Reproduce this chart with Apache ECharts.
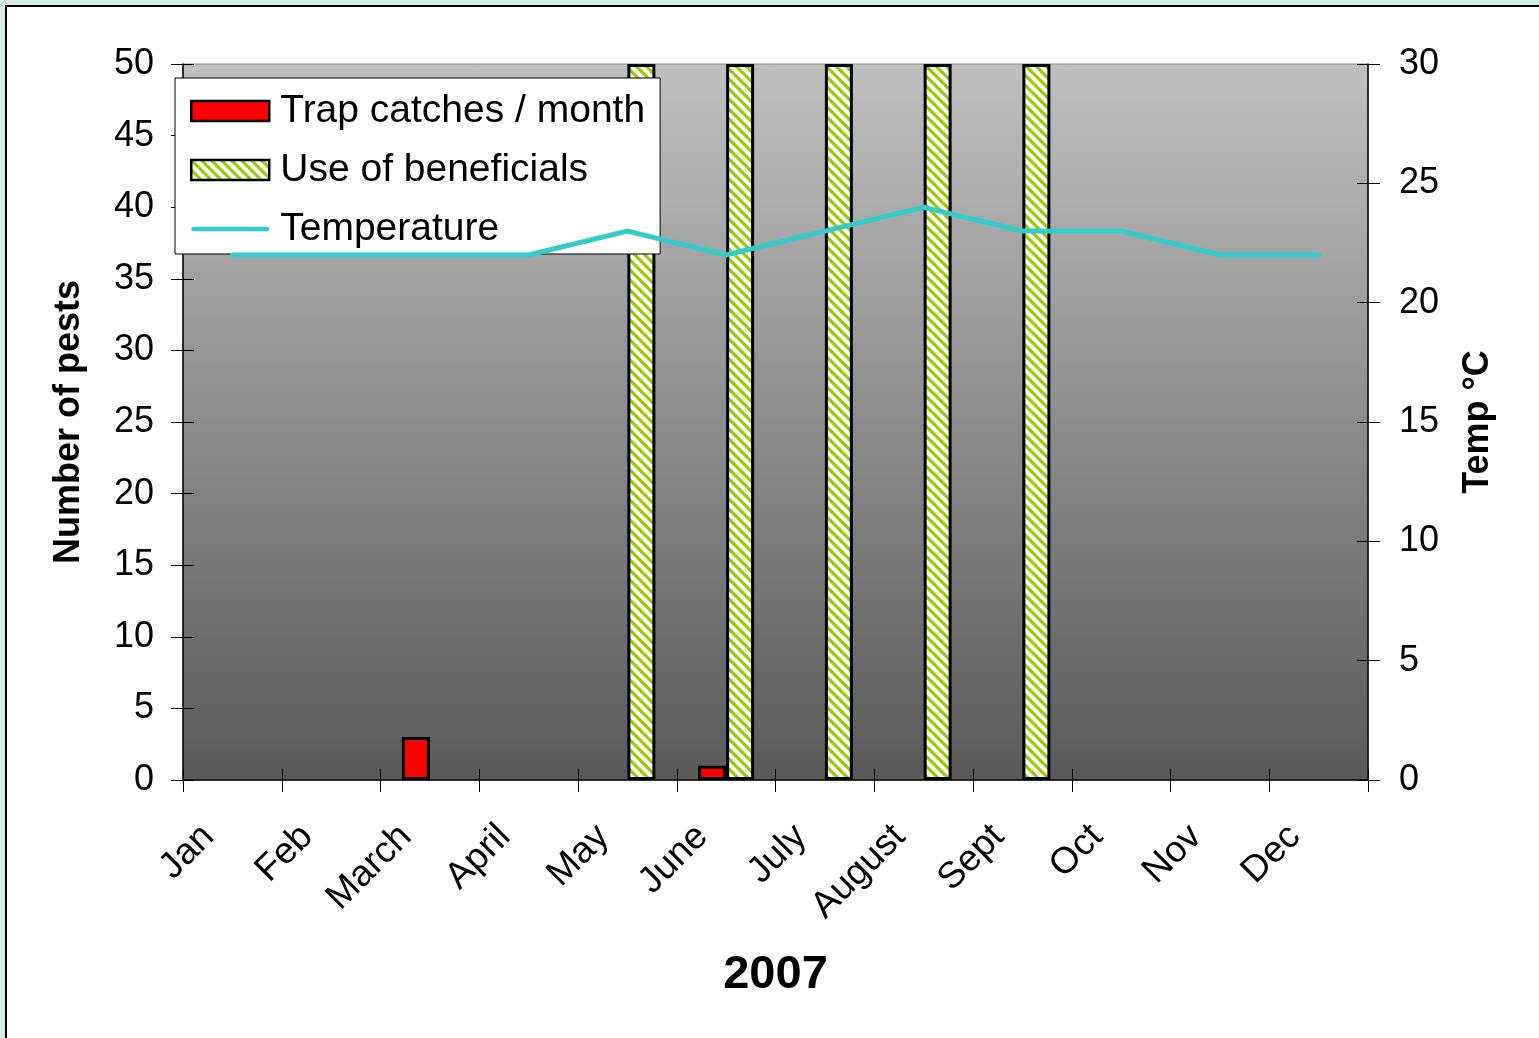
<!DOCTYPE html>
<html>
<head>
<meta charset="utf-8">
<script src="https://cdn.jsdelivr.net/npm/echarts@6/dist/echarts.min.js"></script>
<style>
  html, body { margin: 0; padding: 0; background: #d9ebe5; overflow: hidden; }
  #frame { position: absolute; left: 5px; top: 5px; right: 0; bottom: 0; background: #ffffff;
           border-left: 2px solid #000; border-top: 2px solid #000; }
  #chart { position: absolute; left: 0; top: 0; width: 1539px; height: 1038px; }
</style>
</head>
<body>
<div id="frame"></div>
<div id="chart"></div>
<script>
// Monthly pest monitoring, 2007
const months = ['Jan', 'Feb', 'March', 'April', 'May', 'June', 'July', 'August', 'Sept', 'Oct', 'Nov', 'Dec'];
const trapCatches = [null, null, 3, null, null, 1, null, null, null, null, null, null];
const beneficials = [null, null, null, null, 50, 50, 50, 50, 50, null, null, null];
const temperature = [22, 22, 22, 22, 23, 22, 23, 24, 23, 23, 22, 22];
const pestTicks = { min: 0, max: 50, interval: 5 };
const tempTicks = { min: 0, max: 30, interval: 5 };

// Diagonal green hatch used for the "Use of beneficials" bars
function hatchPattern() {
  const p = 10;
  const c = document.createElement('canvas');
  c.width = p; c.height = p;
  const g = c.getContext('2d');
  g.fillStyle = '#ffffff';
  g.fillRect(0, 0, p, p);
  g.strokeStyle = '#99cc00';
  g.lineWidth = 3.2;
  for (let k = -1; k <= 1; k++) {
    g.beginPath();
    g.moveTo(k * p - 2, -2);
    g.lineTo(k * p + p + 2, p + 2);
    g.stroke();
  }
  return c;
}

const FONT = '"Liberation Sans", Arial, sans-serif';
const gridRect = { left: 183, right: 171, top: 64, bottom: 258 };

const chart = echarts.init(document.getElementById('chart'), null, { renderer: 'canvas' });

const tickOut = { show: true, inside: false, length: 12, lineStyle: { color: '#000', width: 1 } };
const tickIn = { show: true, inside: true, length: 11, lineStyle: { color: '#000', width: 1 } };

chart.setOption({
  animation: false,
  textStyle: { fontFamily: FONT },
  grid: [
    Object.assign({
      show: true,
      backgroundColor: new echarts.graphic.LinearGradient(0, 0, 0, 1, [
        { offset: 0, color: '#c0c0c0' },
        { offset: 1, color: '#595959' }
      ]),
      borderColor: '#8a8a8a',
      borderWidth: 1
    }, gridRect),
    Object.assign({ show: false }, gridRect)
  ],
  legend: {
    orient: 'vertical',
    left: 175,
    top: 78,
    padding: [13, 15, 5, 15],
    itemWidth: 78,
    itemHeight: 20,
    itemGap: 19,
    backgroundColor: '#ffffff',
    borderColor: '#000',
    borderWidth: 1,
    borderRadius: 0,
    textStyle: { fontFamily: FONT, fontSize: 39, lineHeight: 40, color: '#000', padding: [0, 0, 0, 6] },
    data: [
      { name: 'Trap catches / month', icon: 'rect', itemStyle: { borderColor: '#000', borderWidth: 2.5 } },
      { name: 'Use of beneficials', icon: 'rect', itemStyle: { borderColor: '#000', borderWidth: 2.5 } },
      {
        name: 'Temperature',
        icon: 'path://M2.5,0 L81.5,0 A2.5,2.5 0 0 1 81.5,5 L2.5,5 A2.5,2.5 0 0 1 2.5,0 Z',
        itemStyle: { color: '#33cccc', borderWidth: 0 }
      }
    ]
  },
  xAxis: [
    {
      type: 'category',
      gridIndex: 0,
      data: months,
      boundaryGap: true,
      axisLine: { show: true, lineStyle: { color: '#000', width: 1.5 } },
      axisTick: Object.assign({ alignWithLabel: false, interval: 0 }, tickOut),
      axisLabel: {
        interval: 0,
        rotate: 45,
        margin: 27,
        padding: [0, 34, 0, 0],
        fontSize: 37,
        color: '#000',
        fontFamily: FONT
      },
      name: '2007',
      nameLocation: 'middle',
      nameGap: 172,
      nameTextStyle: { fontSize: 47, fontWeight: 'bold', color: '#000', fontFamily: FONT }
    },
    {
      type: 'category',
      gridIndex: 1,
      data: months,
      boundaryGap: true,
      axisLine: { show: false },
      axisTick: Object.assign({ alignWithLabel: false, interval: 0 }, tickIn),
      axisLabel: { show: false }
    }
  ],
  yAxis: [
    Object.assign({
      type: 'value',
      gridIndex: 0,
      position: 'left',
      splitLine: { show: false },
      axisLine: { show: true, lineStyle: { color: '#000', width: 1.5 } },
      axisTick: tickOut,
      axisLabel: { margin: 29, fontSize: 36, color: '#000', fontFamily: FONT },
      name: 'Number of pests',
      nameLocation: 'middle',
      nameGap: 96,
      nameTextStyle: { fontSize: 36, fontWeight: 'bold', color: '#000', fontFamily: FONT }
    }, pestTicks),
    Object.assign({
      type: 'value',
      gridIndex: 0,
      position: 'right',
      splitLine: { show: false },
      axisLine: { show: true, lineStyle: { color: '#000', width: 1.5 } },
      axisTick: tickOut,
      axisLabel: { margin: 31, fontSize: 36, color: '#000', fontFamily: FONT },
      name: 'Temp °C',
      nameLocation: 'middle',
      nameGap: 92,
      nameTextStyle: { fontSize: 36, fontWeight: 'bold', color: '#000', fontFamily: FONT }
    }, tempTicks),
    Object.assign({
      type: 'value', gridIndex: 1, position: 'left',
      splitLine: { show: false }, axisLine: { show: false },
      axisTick: tickIn, axisLabel: { show: false }
    }, pestTicks),
    Object.assign({
      type: 'value', gridIndex: 1, position: 'right',
      splitLine: { show: false }, axisLine: { show: false },
      axisTick: tickIn, axisLabel: { show: false }
    }, tempTicks)
  ],
  series: [
    {
      name: 'Trap catches / month',
      type: 'bar',
      xAxisIndex: 0,
      yAxisIndex: 0,
      data: trapCatches,
      barWidth: 28,
      barGap: '0%',
      itemStyle: { color: '#ff0000', borderColor: '#000', borderWidth: 3 }
    },
    {
      name: 'Use of beneficials',
      type: 'bar',
      xAxisIndex: 0,
      yAxisIndex: 0,
      data: beneficials,
      barWidth: 28,
      barGap: '0%',
      itemStyle: { color: { image: hatchPattern(), repeat: 'repeat' }, borderColor: '#000', borderWidth: 3 }
    },
    {
      name: 'Temperature',
      type: 'line',
      xAxisIndex: 0,
      yAxisIndex: 1,
      data: temperature,
      symbol: 'none',
      showSymbol: false,
      z: 5,
      lineStyle: { color: '#33cccc', width: 5, cap: 'round', join: 'miter' },
      itemStyle: { color: '#33cccc' }
    }
  ]
});
</script>
</body>
</html>
